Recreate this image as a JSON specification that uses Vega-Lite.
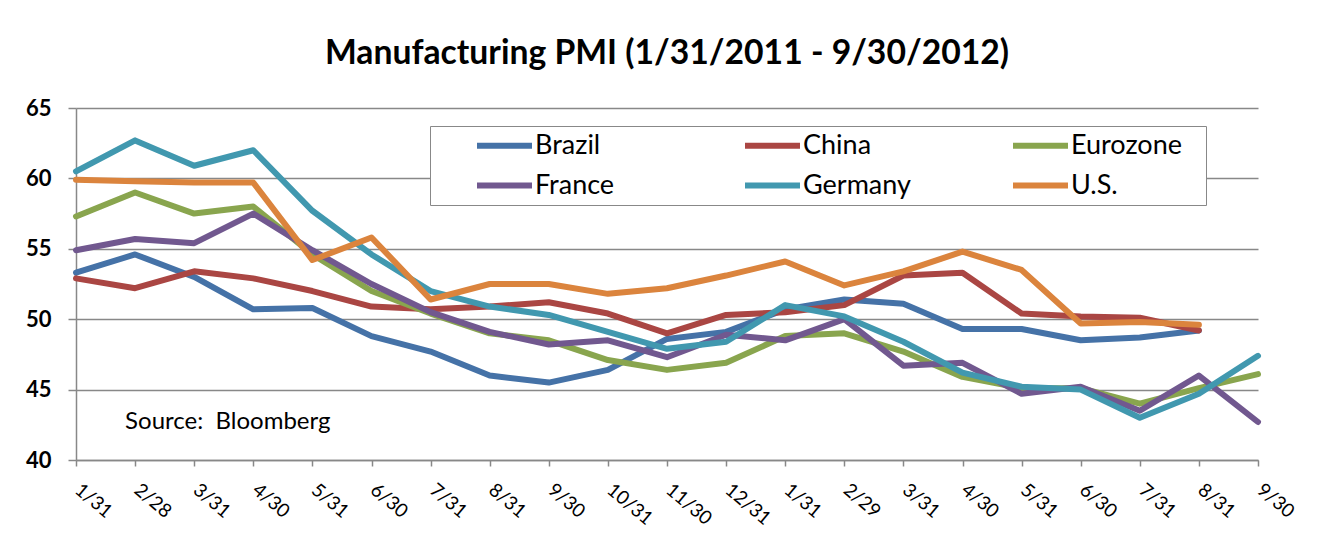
{
  "$schema": "https://vega.github.io/schema/vega-lite/v6.json",
  "width": 1182,
  "height": 352,
  "autosize": {"type": "none"},
  "padding": {"left": 76, "top": 108, "right": 62, "bottom": 74},
  "background": "white",
  "title": {
    "text": "Manufacturing PMI (1/31/2011 - 9/30/2012)",
    "font": "Lato",
    "fontSize": 33.7,
    "fontWeight": "bold",
    "color": "black",
    "anchor": "middle",
    "offset": 26
  },
  "config": {
    "view": {"stroke": null},
    "font": "Lato"
  },
  "datasets": {
    "pmi": [
      {"date": "2011-01-31", "country": "Brazil", "pmi": 53.3},
      {"date": "2011-02-28", "country": "Brazil", "pmi": 54.6},
      {"date": "2011-03-31", "country": "Brazil", "pmi": 53.0},
      {"date": "2011-04-30", "country": "Brazil", "pmi": 50.7},
      {"date": "2011-05-31", "country": "Brazil", "pmi": 50.8},
      {"date": "2011-06-30", "country": "Brazil", "pmi": 48.8},
      {"date": "2011-07-31", "country": "Brazil", "pmi": 47.7},
      {"date": "2011-08-31", "country": "Brazil", "pmi": 46.0},
      {"date": "2011-09-30", "country": "Brazil", "pmi": 45.5},
      {"date": "2011-10-31", "country": "Brazil", "pmi": 46.4},
      {"date": "2011-11-30", "country": "Brazil", "pmi": 48.6},
      {"date": "2011-12-31", "country": "Brazil", "pmi": 49.1},
      {"date": "2012-01-31", "country": "Brazil", "pmi": 50.7},
      {"date": "2012-02-29", "country": "Brazil", "pmi": 51.4},
      {"date": "2012-03-31", "country": "Brazil", "pmi": 51.1},
      {"date": "2012-04-30", "country": "Brazil", "pmi": 49.3},
      {"date": "2012-05-31", "country": "Brazil", "pmi": 49.3},
      {"date": "2012-06-30", "country": "Brazil", "pmi": 48.5},
      {"date": "2012-07-31", "country": "Brazil", "pmi": 48.7},
      {"date": "2012-08-31", "country": "Brazil", "pmi": 49.2},

      {"date": "2011-01-31", "country": "China", "pmi": 52.9},
      {"date": "2011-02-28", "country": "China", "pmi": 52.2},
      {"date": "2011-03-31", "country": "China", "pmi": 53.4},
      {"date": "2011-04-30", "country": "China", "pmi": 52.9},
      {"date": "2011-05-31", "country": "China", "pmi": 52.0},
      {"date": "2011-06-30", "country": "China", "pmi": 50.9},
      {"date": "2011-07-31", "country": "China", "pmi": 50.7},
      {"date": "2011-08-31", "country": "China", "pmi": 50.9},
      {"date": "2011-09-30", "country": "China", "pmi": 51.2},
      {"date": "2011-10-31", "country": "China", "pmi": 50.4},
      {"date": "2011-11-30", "country": "China", "pmi": 49.0},
      {"date": "2011-12-31", "country": "China", "pmi": 50.3},
      {"date": "2012-01-31", "country": "China", "pmi": 50.5},
      {"date": "2012-02-29", "country": "China", "pmi": 51.0},
      {"date": "2012-03-31", "country": "China", "pmi": 53.1},
      {"date": "2012-04-30", "country": "China", "pmi": 53.3},
      {"date": "2012-05-31", "country": "China", "pmi": 50.4},
      {"date": "2012-06-30", "country": "China", "pmi": 50.2},
      {"date": "2012-07-31", "country": "China", "pmi": 50.1},
      {"date": "2012-08-31", "country": "China", "pmi": 49.2},

      {"date": "2011-01-31", "country": "Eurozone", "pmi": 57.3},
      {"date": "2011-02-28", "country": "Eurozone", "pmi": 59.0},
      {"date": "2011-03-31", "country": "Eurozone", "pmi": 57.5},
      {"date": "2011-04-30", "country": "Eurozone", "pmi": 58.0},
      {"date": "2011-05-31", "country": "Eurozone", "pmi": 54.6},
      {"date": "2011-06-30", "country": "Eurozone", "pmi": 52.0},
      {"date": "2011-07-31", "country": "Eurozone", "pmi": 50.4},
      {"date": "2011-08-31", "country": "Eurozone", "pmi": 49.0},
      {"date": "2011-09-30", "country": "Eurozone", "pmi": 48.5},
      {"date": "2011-10-31", "country": "Eurozone", "pmi": 47.1},
      {"date": "2011-11-30", "country": "Eurozone", "pmi": 46.4},
      {"date": "2011-12-31", "country": "Eurozone", "pmi": 46.9},
      {"date": "2012-01-31", "country": "Eurozone", "pmi": 48.8},
      {"date": "2012-02-29", "country": "Eurozone", "pmi": 49.0},
      {"date": "2012-03-31", "country": "Eurozone", "pmi": 47.7},
      {"date": "2012-04-30", "country": "Eurozone", "pmi": 45.9},
      {"date": "2012-05-31", "country": "Eurozone", "pmi": 45.1},
      {"date": "2012-06-30", "country": "Eurozone", "pmi": 45.1},
      {"date": "2012-07-31", "country": "Eurozone", "pmi": 44.0},
      {"date": "2012-08-31", "country": "Eurozone", "pmi": 45.1},
      {"date": "2012-09-30", "country": "Eurozone", "pmi": 46.1},

      {"date": "2011-01-31", "country": "France", "pmi": 54.9},
      {"date": "2011-02-28", "country": "France", "pmi": 55.7},
      {"date": "2011-03-31", "country": "France", "pmi": 55.4},
      {"date": "2011-04-30", "country": "France", "pmi": 57.5},
      {"date": "2011-05-31", "country": "France", "pmi": 54.9},
      {"date": "2011-06-30", "country": "France", "pmi": 52.5},
      {"date": "2011-07-31", "country": "France", "pmi": 50.5},
      {"date": "2011-08-31", "country": "France", "pmi": 49.1},
      {"date": "2011-09-30", "country": "France", "pmi": 48.2},
      {"date": "2011-10-31", "country": "France", "pmi": 48.5},
      {"date": "2011-11-30", "country": "France", "pmi": 47.3},
      {"date": "2011-12-31", "country": "France", "pmi": 48.9},
      {"date": "2012-01-31", "country": "France", "pmi": 48.5},
      {"date": "2012-02-29", "country": "France", "pmi": 50.0},
      {"date": "2012-03-31", "country": "France", "pmi": 46.7},
      {"date": "2012-04-30", "country": "France", "pmi": 46.9},
      {"date": "2012-05-31", "country": "France", "pmi": 44.7},
      {"date": "2012-06-30", "country": "France", "pmi": 45.2},
      {"date": "2012-07-31", "country": "France", "pmi": 43.5},
      {"date": "2012-08-31", "country": "France", "pmi": 46.0},
      {"date": "2012-09-30", "country": "France", "pmi": 42.7},

      {"date": "2011-01-31", "country": "Germany", "pmi": 60.5},
      {"date": "2011-02-28", "country": "Germany", "pmi": 62.7},
      {"date": "2011-03-31", "country": "Germany", "pmi": 60.9},
      {"date": "2011-04-30", "country": "Germany", "pmi": 62.0},
      {"date": "2011-05-31", "country": "Germany", "pmi": 57.7},
      {"date": "2011-06-30", "country": "Germany", "pmi": 54.6},
      {"date": "2011-07-31", "country": "Germany", "pmi": 52.0},
      {"date": "2011-08-31", "country": "Germany", "pmi": 50.9},
      {"date": "2011-09-30", "country": "Germany", "pmi": 50.3},
      {"date": "2011-10-31", "country": "Germany", "pmi": 49.1},
      {"date": "2011-11-30", "country": "Germany", "pmi": 47.9},
      {"date": "2011-12-31", "country": "Germany", "pmi": 48.4},
      {"date": "2012-01-31", "country": "Germany", "pmi": 51.0},
      {"date": "2012-02-29", "country": "Germany", "pmi": 50.2},
      {"date": "2012-03-31", "country": "Germany", "pmi": 48.4},
      {"date": "2012-04-30", "country": "Germany", "pmi": 46.2},
      {"date": "2012-05-31", "country": "Germany", "pmi": 45.2},
      {"date": "2012-06-30", "country": "Germany", "pmi": 45.0},
      {"date": "2012-07-31", "country": "Germany", "pmi": 43.0},
      {"date": "2012-08-31", "country": "Germany", "pmi": 44.7},
      {"date": "2012-09-30", "country": "Germany", "pmi": 47.4},

      {"date": "2011-01-31", "country": "U.S.", "pmi": 59.9},
      {"date": "2011-02-28", "country": "U.S.", "pmi": 59.8},
      {"date": "2011-03-31", "country": "U.S.", "pmi": 59.7},
      {"date": "2011-04-30", "country": "U.S.", "pmi": 59.7},
      {"date": "2011-05-31", "country": "U.S.", "pmi": 54.2},
      {"date": "2011-06-30", "country": "U.S.", "pmi": 55.8},
      {"date": "2011-07-31", "country": "U.S.", "pmi": 51.4},
      {"date": "2011-08-31", "country": "U.S.", "pmi": 52.5},
      {"date": "2011-09-30", "country": "U.S.", "pmi": 52.5},
      {"date": "2011-10-31", "country": "U.S.", "pmi": 51.8},
      {"date": "2011-11-30", "country": "U.S.", "pmi": 52.2},
      {"date": "2011-12-31", "country": "U.S.", "pmi": 53.1},
      {"date": "2012-01-31", "country": "U.S.", "pmi": 54.1},
      {"date": "2012-02-29", "country": "U.S.", "pmi": 52.4},
      {"date": "2012-03-31", "country": "U.S.", "pmi": 53.4},
      {"date": "2012-04-30", "country": "U.S.", "pmi": 54.8},
      {"date": "2012-05-31", "country": "U.S.", "pmi": 53.5},
      {"date": "2012-06-30", "country": "U.S.", "pmi": 49.7},
      {"date": "2012-07-31", "country": "U.S.", "pmi": 49.8},
      {"date": "2012-08-31", "country": "U.S.", "pmi": 49.6}
    ],
    "note": [
      {"date": "2011-02-28", "pmi": 42.7, "text": "Source:\u00a0 Bloomberg"}
    ]
  },
  "layer": [
    {
      "data": {"name": "pmi"},
      "mark": {"type": "line", "strokeWidth": 6, "strokeJoin": "round", "strokeCap": "round"},
      "encoding": {
        "x": {
          "field": "date",
          "type": "ordinal",
          "scale": {"type": "point", "padding": 0},
          "axis": {
            "title": null,
            "labelExpr": "toNumber(slice(datum.value,5,7)) + '/' + toNumber(slice(datum.value,8,10))",
            "labelAngle": 40,
            "labelAlign": "left",
            "labelBaseline": "top",
            "labelFont": "Lato",
            "labelFontSize": 19,
            "labelColor": "black",
            "labelPadding": 14,
            "labelOffset": 7,
            "domainColor": "#888888",
            "domainWidth": 1.5,
            "tickColor": "#888888",
            "tickWidth": 1.5,
            "tickSize": 6,
            "grid": false
          }
        },
        "y": {
          "field": "pmi",
          "type": "quantitative",
          "scale": {"domain": [40, 65], "nice": false, "zero": false},
          "axis": {
            "title": null,
            "values": [40, 45, 50, 55, 60, 65],
            "labelFont": "Lato",
            "labelFontSize": 22,
            "labelFontWeight": "bold",
            "labelColor": "black",
            "labelPadding": 17,
            "domainColor": "#888888",
            "domainWidth": 1.5,
            "tickColor": "#888888",
            "tickWidth": 1.5,
            "tickSize": 8,
            "grid": true,
            "gridColor": "#888888",
            "gridWidth": 1.5
          }
        },
        "color": {
          "field": "country",
          "type": "nominal",
          "scale": {
            "domain": ["Brazil", "China", "Eurozone", "France", "Germany", "U.S."],
            "range": ["#4572A7", "#AA4643", "#89A54E", "#71588F", "#4198AF", "#DB843D"]
          },
          "legend": {
            "title": ".",
            "titleOrient": "right",
            "titleColor": "white",
            "titleFontSize": 10,
            "titlePadding": 15,
            "orient": "none",
            "legendX": 354,
            "legendY": 18,
            "direction": "horizontal",
            "columns": 3,
            "gridAlign": "all",
            "columnPadding": 58,
            "rowPadding": 12,
            "padding": 6,
            "symbolOffset": 55,
            "symbolType": "M-5,0H5",
            "symbolSize": 121,
            "symbolStrokeWidth": 6,
            "labelFont": "Lato",
            "labelFontSize": 27,
            "labelColor": "black",
            "labelOffset": 17,
            "strokeColor": "#888888",
            "fillColor": "white"
          }
        }
      }
    },
    {
      "data": {"name": "note"},
      "mark": {"type": "text", "align": "left", "baseline": "middle", "dx": -10, "font": "Lato", "fontSize": 24, "color": "black"},
      "encoding": {
        "x": {"field": "date", "type": "ordinal"},
        "y": {"field": "pmi", "type": "quantitative"},
        "text": {"field": "text"}
      }
    }
  ]
}
